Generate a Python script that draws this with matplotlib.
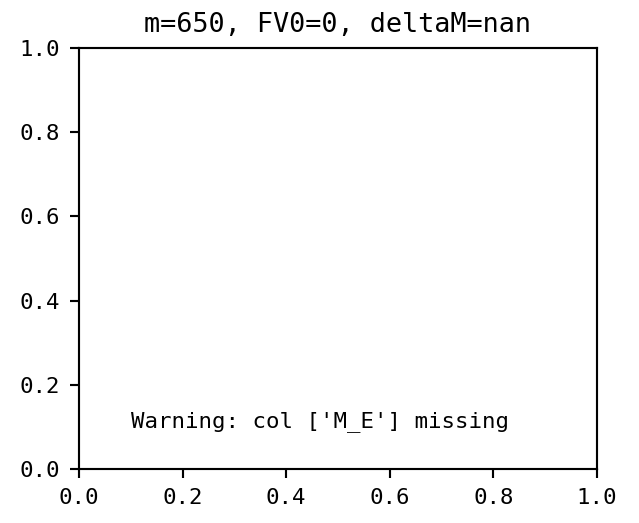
import matplotlib
matplotlib.use("Agg")
import matplotlib.pyplot as plt

# chart content
m_value = 650
fv0_value = 0
delta_m = float("nan")
missing_cols = ['M_E']
x_ticks = [0.0, 0.2, 0.4, 0.6, 0.8, 1.0]
y_ticks = [0.0, 0.2, 0.4, 0.6, 0.8, 1.0]

plt.rcParams['font.family'] = ['DejaVu Sans Mono', 'DejaVu Sans']

fig = plt.figure(figsize=(639 / 192, 523 / 192), dpi=192)
ax = fig.add_axes([0.1236, 0.1033, 0.934 - 0.1236, 0.908 - 0.1033])

ax.set_xlim(0, 1)
ax.set_ylim(0, 1)
ax.set_xticks(x_ticks)
ax.set_yticks(y_ticks)
ax.tick_params(labelsize=8.4)

ax.set_title(f"m={m_value}, FV0={fv0_value}, deltaM={delta_m}", fontsize=10.1)

# placeholder text shown when the data column is absent
ax.text(0.1, 0.1, f"Warning: col {missing_cols} missing",
        transform=ax.transAxes, fontsize=8.4)

fig.savefig("out.png", dpi=192)
